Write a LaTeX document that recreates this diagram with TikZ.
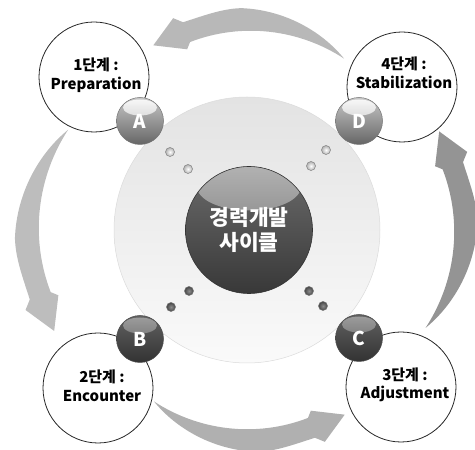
\documentclass[tikz,border=0pt]{standalone}
\usepackage{fontspec}
\setmainfont{Noto Sans CJK KR}
\usepackage{tikz}
\tikzset{
  stage/.style={circle, draw=black!85, fill=white, line width=0.8pt,
                minimum size=#1, inner sep=0pt},
  stage/.default=110,
  stagetext/.style={align=center, inner sep=0pt,
                font=\fontsize{15}{18.5}\selectfont\bfseries},
  ballL/.style={circle, draw=black!55, line width=0.5pt, minimum size=#1, inner sep=0pt,
                top color=black!22, bottom color=black!60, text=white,
                font=\fontsize{19}{19}\selectfont\bfseries,
                path picture={\shade[top color=white, bottom color=black!25, opacity=.9]
                  ([yshift=-10pt]path picture bounding box.north) ellipse (17pt and 8pt);}},
  ballL/.default=47,
  ballD/.style={circle, draw=black!70, line width=0.5pt, minimum size=#1, inner sep=0pt,
                top color=black!62, bottom color=black!80, text=white,
                font=\fontsize{19}{19}\selectfont\bfseries,
                path picture={\shade[top color=black!35, bottom color=black!65, opacity=.9]
                  ([yshift=-10pt]path picture bounding box.north) ellipse (17pt and 8pt);}},
  ballD/.default=47,
  dotL/.style={circle, draw=black!50, line width=0.5pt, inner color=white,
               outer color=black!30, minimum size=9, inner sep=0pt},
  dotD/.style={circle, draw=black!55, line width=0.5pt, inner color=black!45,
               outer color=black!72, minimum size=9, inner sep=0pt}}

\begin{document}
\begin{tikzpicture}[x=1pt, y=1pt]
  \useasboundingbox (0,0) rectangle (475,450);
  % curved arrows round the cycle
  \foreach \r/\s/\c in {0/1/28, 90/1.055/26, 180/1.0/31, 270/1.03/42}{
    \fill[black!\c, shift={(249,220)}, rotate=\r, scale=\s]
      (61:196) .. controls (70:212) and (81:223) .. (92:222)
      .. controls (97:223) and (102:219) .. (107.6:218)
      -- (109.7:225) -- (117.4:208) -- (108.9:191) -- (107.4:197)
      .. controls (92:208) and (76:207) .. (61:196) -- cycle;}
  % back disk and centre ball
  \node[circle, minimum size=266, inner sep=0pt, draw=black!14, line width=0.5pt,
        top color=black!11, bottom color=black!2] (ring) at (247,220) {};
  \node[circle, minimum size=127, inner sep=0pt, draw=black!80, line width=0.6pt,
        top color=black!58, bottom color=black!78, text=white, align=center,
        font=\fontsize{21.5}{25}\selectfont\bfseries,
        path picture={\shade[top color=black!28, bottom color=black!58, opacity=.95]
          ([yshift=-20pt]path picture bounding box.north) ellipse (52pt and 24pt);}]
        (core) at (249,220) {경력개발\\사이클};
  % stage circles
  \node[stage] (c1) at (94,373) {};
  \node[stage] (c4) at (402,363) {};
  \node[stage] (c2) at (98,62) {};
  \node[stage] (c3) at (401,63) {};
  \node[stagetext] (t1) at (96,375) {1단계 :\\Preparation};
  \node[stagetext] (t4) at (404,377) {4단계 :\\Stabilization};
  \node[stagetext] (t2) at (102,64) {2단계 :\\Encounter};
  \node[stagetext] (t3) at (405,65) {3단계 :\\Adjustment};
  % letter balls
  \node[ballL] (bA) at (140,329) {A};
  \node[ballL] (bD) at (359,329) {D};
  \node[ballD] (bB) at (140,111) {B};
  \node[ballD] (bC) at (359,112) {C};
  % small dots
  \foreach \x/\y in {170/298, 188/281, 326/300, 311/284}{\node[dotL] at (\x,\y) {};}
  \foreach \x/\y in {189/159, 171/143, 309/159, 323/144}{\node[dotD] at (\x,\y) {};}
\end{tikzpicture}
\end{document}
